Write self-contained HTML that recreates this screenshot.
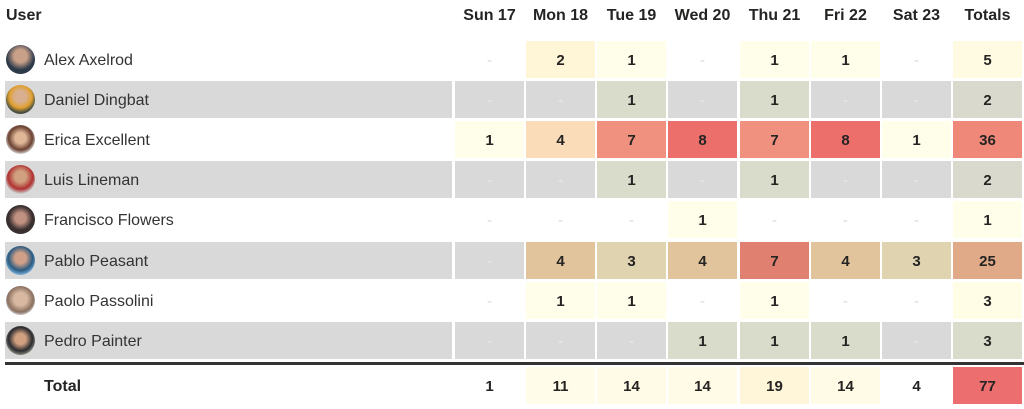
<!DOCTYPE html>
<html><head><meta charset="utf-8"><style>
body{margin:0;width:1024px;height:409px;background:#fff;font-family:"Liberation Sans",sans-serif;position:relative;overflow:hidden;color:#252423}
.a{position:absolute}
.h{position:absolute;top:7px;font-weight:bold;font-size:16px;width:69px;text-align:center}
.u{position:absolute;left:5px;width:447px;height:37px}
.n{position:absolute;left:39px;top:0;font-size:16px;line-height:40px;color:#333}
.av{position:absolute;left:1px;top:4px;width:29px;height:29px;border-radius:50%}
.c{position:absolute;width:69px;height:37px;line-height:40px;text-align:center;font-weight:bold;font-size:15px}
.d{color:#d8d8d8;font-weight:normal}
.g{background:#d9d9d9}.g .d,.g.d{color:#eaeaea}
</style></head><body>
<div class="a" style="left:6px;top:7px;font-weight:bold;font-size:16px">User</div>
<div class="h" style="left:455px">Sun 17</div><div class="h" style="left:526px">Mon 18</div><div class="h" style="left:597px">Tue 19</div><div class="h" style="left:668px">Wed 20</div><div class="h" style="left:740px">Thu 21</div><div class="h" style="left:811px">Fri 22</div><div class="h" style="left:882px">Sat 23</div><div class="h" style="left:953px">Totals</div>

<div class="u" style="top:41px"><div class="av" style="background:radial-gradient(circle at 50% 38%,#c9a088 28%,#2d3a4a 60%)"></div><div class="n">Alex Axelrod</div></div>
<div class="c d" style="left:455px;top:41px">-</div><div class="c" style="left:526px;top:41px;background:#fff6d8">2</div><div class="c" style="left:597px;top:41px;background:#fffeea">1</div><div class="c d" style="left:668px;top:41px">-</div><div class="c" style="left:740px;top:41px;background:#fffeea">1</div><div class="c" style="left:811px;top:41px;background:#fffeea">1</div><div class="c d" style="left:882px;top:41px">-</div><div class="c" style="left:953px;top:41px;background:#fffbe3">5</div>

<div class="u g" style="top:81px"><div class="av" style="background:radial-gradient(circle at 50% 40%,#d8b090 25%,#e0a030 50%,#4a5040 70%)"></div><div class="n">Daniel Dingbat</div></div>
<div class="c g d" style="left:455px;top:81px">-</div><div class="c g d" style="left:526px;top:81px">-</div><div class="c" style="left:597px;top:81px;background:#d9dbcb">1</div><div class="c g d" style="left:668px;top:81px">-</div><div class="c" style="left:740px;top:81px;background:#d9dbcb">1</div><div class="c g d" style="left:811px;top:81px">-</div><div class="c g d" style="left:882px;top:81px">-</div><div class="c" style="left:953px;top:81px;background:#d9d9cd">2</div>

<div class="u" style="top:121px"><div class="av" style="background:radial-gradient(circle at 50% 45%,#e0b898 25%,#6a4030 55%,#ddd 75%)"></div><div class="n">Erica Excellent</div></div>
<div class="c" style="left:455px;top:121px;background:#fffeea">1</div><div class="c" style="left:526px;top:121px;background:#fbdcb8">4</div><div class="c" style="left:597px;top:121px;background:#f0907e">7</div><div class="c" style="left:668px;top:121px;background:#ec6f6c">8</div><div class="c" style="left:740px;top:121px;background:#f0907e">7</div><div class="c" style="left:811px;top:121px;background:#ec6f6c">8</div><div class="c" style="left:882px;top:121px;background:#fffeea">1</div><div class="c" style="left:953px;top:121px;background:#ef8878">36</div>

<div class="u g" style="top:161px"><div class="av" style="background:radial-gradient(circle at 50% 40%,#d0a080 25%,#b03030 55%,#ccc 75%)"></div><div class="n">Luis Lineman</div></div>
<div class="c g d" style="left:455px;top:161px">-</div><div class="c g d" style="left:526px;top:161px">-</div><div class="c" style="left:597px;top:161px;background:#d9dbcb">1</div><div class="c g d" style="left:668px;top:161px">-</div><div class="c" style="left:740px;top:161px;background:#d9dbcb">1</div><div class="c g d" style="left:811px;top:161px">-</div><div class="c g d" style="left:882px;top:161px">-</div><div class="c" style="left:953px;top:161px;background:#d9d9cd">2</div>

<div class="u" style="top:201px"><div class="av" style="background:radial-gradient(circle at 50% 45%,#c09080 25%,#3a3030 55%)"></div><div class="n">Francisco Flowers</div></div>
<div class="c d" style="left:455px;top:201px">-</div><div class="c d" style="left:526px;top:201px">-</div><div class="c d" style="left:597px;top:201px">-</div><div class="c" style="left:668px;top:201px;background:#fffeea">1</div><div class="c d" style="left:740px;top:201px">-</div><div class="c d" style="left:811px;top:201px">-</div><div class="c d" style="left:882px;top:201px">-</div><div class="c" style="left:953px;top:201px;background:#fffeea">1</div>

<div class="u g" style="top:242px"><div class="av" style="background:radial-gradient(circle at 50% 42%,#d0a088 25%,#2a5a80 55%,#7ab0d8 75%)"></div><div class="n">Pablo Peasant</div></div>
<div class="c g d" style="left:455px;top:242px">-</div><div class="c" style="left:526px;top:242px;background:#e2c49c">4</div><div class="c" style="left:597px;top:242px;background:#e0d3b0">3</div><div class="c" style="left:668px;top:242px;background:#e2c49c">4</div><div class="c" style="left:740px;top:242px;background:#df8070">7</div><div class="c" style="left:811px;top:242px;background:#e2c49c">4</div><div class="c" style="left:882px;top:242px;background:#e0d3b0">3</div><div class="c" style="left:953px;top:242px;background:#e0aa88">25</div>

<div class="u" style="top:282px"><div class="av" style="background:radial-gradient(circle at 50% 45%,#d8b8a0 30%,#8a7060 60%,#ccc 75%)"></div><div class="n">Paolo Passolini</div></div>
<div class="c d" style="left:455px;top:282px">-</div><div class="c" style="left:526px;top:282px;background:#fffeea">1</div><div class="c" style="left:597px;top:282px;background:#fffeea">1</div><div class="c d" style="left:668px;top:282px">-</div><div class="c" style="left:740px;top:282px;background:#fffeea">1</div><div class="c d" style="left:811px;top:282px">-</div><div class="c d" style="left:882px;top:282px">-</div><div class="c" style="left:953px;top:282px;background:#fffde6">3</div>

<div class="u g" style="top:322px"><div class="av" style="background:radial-gradient(circle at 50% 45%,#d0a080 25%,#2a2a30 55%,#8a9080 75%)"></div><div class="n">Pedro Painter</div></div>
<div class="c g d" style="left:455px;top:322px">-</div><div class="c g d" style="left:526px;top:322px">-</div><div class="c g d" style="left:597px;top:322px">-</div><div class="c" style="left:668px;top:322px;background:#d9dbcb">1</div><div class="c" style="left:740px;top:322px;background:#d9dbcb">1</div><div class="c" style="left:811px;top:322px;background:#d9dbcb">1</div><div class="c g d" style="left:882px;top:322px">-</div><div class="c" style="left:953px;top:322px;background:#d9dbcb">3</div>

<div class="a" style="left:5px;top:362px;width:1019px;height:3px;background:#333"></div>
<div class="a" style="left:44px;top:367px;line-height:40px;font-weight:bold;font-size:16px">Total</div>
<div class="c" style="left:455px;top:367px">1</div><div class="c" style="left:526px;top:367px;background:#fffdea">11</div><div class="c" style="left:597px;top:367px;background:#fffbe6">14</div><div class="c" style="left:668px;top:367px;background:#fffbe6">14</div><div class="c" style="left:740px;top:367px;background:#fff5d8">19</div><div class="c" style="left:811px;top:367px;background:#fffbe6">14</div><div class="c" style="left:882px;top:367px">4</div><div class="c" style="left:953px;top:367px;background:#ec6e6e">77</div>
</body></html>
